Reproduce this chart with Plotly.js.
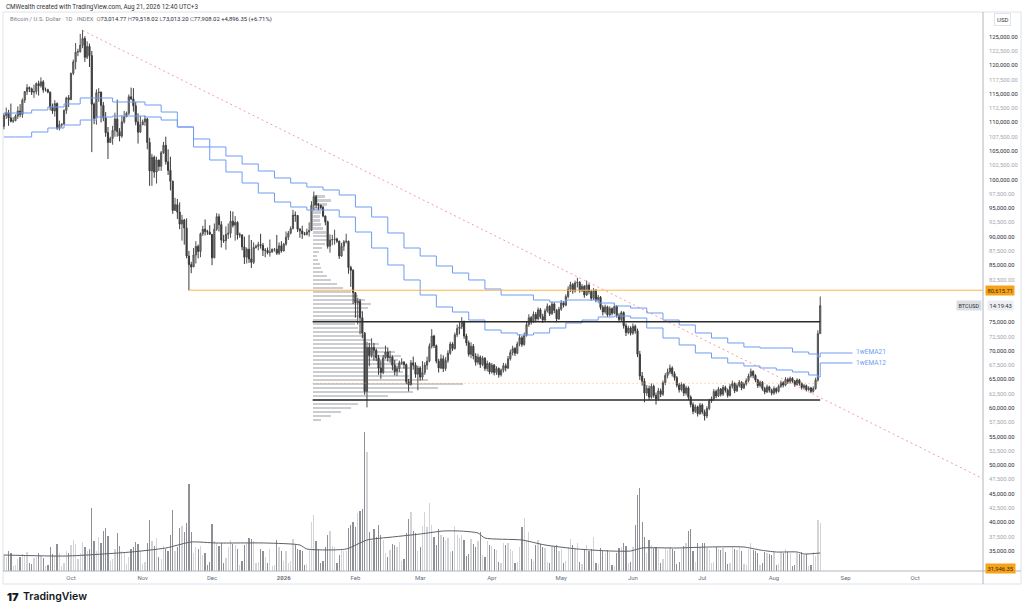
<!DOCTYPE html>
<html><head><meta charset="utf-8">
<script src="https://cdn.plot.ly/plotly-3.0.1.min.js"></script>
<style>html,body{margin:0;padding:0;background:#fff}#chart{width:1024px;height:612px}</style>
</head><body><div id="chart"></div>
<script>
// ---------- DATA (daily, BTCUSD INDEX, prices in thousands of USD) ----------
const firstDay = '2025-09-02';
const firstOpenK = 109.3;
const closeK = [
// Sep 2-30
111.2,111.7,110.8,110.2,110.3,111.1,112.0,111.4,113.9,115.4,116.1,115.9,115.3,115.4,116.8,116.4,117.1,115.7,115.7,115.3,112.7,112.0,113.3,109.0,109.6,109.7,112.1,114.3,114.0,
// Oct
118.6,120.6,122.3,122.4,123.5,124.7,121.4,123.3,121.7,113.2,110.7,115.2,115.3,113.0,110.8,108.2,106.5,107.2,108.6,110.6,108.4,107.6,110.1,111.0,111.6,114.5,114.1,112.9,110.1,108.3,109.6,
// Nov
110.1,110.6,106.5,101.5,103.9,101.3,103.4,102.3,104.7,106.0,103.1,101.6,99.7,94.6,95.6,94.3,92.2,92.9,91.5,86.6,85.1,84.7,86.8,88.3,87.4,90.5,91.3,90.9,90.8,90.4,
// Dec
86.3,91.3,93.5,92.1,89.4,89.3,90.4,90.6,92.7,92.0,92.5,90.3,90.3,88.2,86.4,87.8,86.1,85.5,88.1,88.3,88.6,88.5,87.6,87.6,87.2,87.3,87.8,87.8,87.1,88.4,87.5,
// Jan 2026
88.7,89.9,90.6,91.4,93.8,93.7,91.3,91.0,90.5,90.4,90.8,91.1,95.5,97.0,95.6,95.5,95.1,93.6,92.6,88.3,89.4,89.5,89.6,89.2,86.6,88.3,89.1,89.2,84.6,84.1,80.2,
// Feb
78.4,78.7,75.8,73.1,62.9,70.6,69.2,70.6,70.1,68.8,67.0,66.2,68.8,69.8,68.8,68.9,67.5,66.4,66.9,67.9,68.0,67.6,64.6,64.1,67.9,67.5,65.9,67.0,
// Mar
65.4,66.2,67.5,68.2,70.8,72.6,70.9,68.2,67.0,68.6,66.9,68.3,69.6,71.2,70.4,72.8,73.9,74.2,75.0,72.6,71.4,69.4,70.8,69.1,68.0,68.9,67.6,68.7,66.9,67.8,66.3,
// Apr
67.5,66.2,66.9,65.8,66.6,67.4,67.0,68.6,69.7,70.4,69.6,71.2,72.3,71.1,72.7,74.6,75.8,75.1,76.4,75.6,77.2,76.0,75.4,77.0,77.8,76.5,78.2,77.1,75.6,77.3,
// May
78.4,78.0,79.5,80.8,81.6,80.5,81.9,82.0,80.6,81.3,79.8,81.5,80.4,79.2,80.6,78.9,79.4,77.6,76.8,77.7,76.3,77.4,76.6,77.8,76.2,75.5,76.7,74.4,73.2,74.0,73.1,
// Jun
74.3,73.5,69.4,65.6,64.7,62.6,63.4,61.9,63.8,62.2,61.6,63.0,62.4,64.4,65.7,66.3,67.0,66.0,65.3,64.0,63.2,64.1,62.6,63.5,61.9,60.6,59.4,60.2,59.0,60.5,
// Jul
59.3,58.6,59.9,61.2,61.6,62.9,62.1,63.3,62.4,63.6,63.1,62.2,63.8,64.3,63.0,63.9,64.5,63.5,64.2,64.8,65.6,66.4,65.7,64.9,63.9,64.5,63.4,62.8,63.7,63.1,62.6,
// Aug 1-21
63.4,62.9,63.8,64.4,64.0,65.0,64.6,65.2,64.7,64.1,64.9,64.3,63.6,63.9,63.2,63.5,62.9,63.4,64.9,73.01167,77.90802
];
const highK = [
111.6,112.6,112.2,113.3,110.9,111.4,112.8,113.2,114.2,115.5,116.7,116.3,116.1,116.6,117.0,117.3,117.9,117.4,116.1,115.9,115.4,113.3,113.9,113.5,110.3,109.8,112.3,114.5,114.8,
118.7,121.0,123.9,122.9,125.5,126.2,125.1,124.2,123.8,122.5,113.5,115.8,116.0,115.4,113.6,111.8,109.2,107.5,109.4,111.7,114.0,109.0,111.2,112.0,111.9,114.9,116.1,116.0,113.6,111.6,111.1,
110.5,111.2,110.8,107.3,104.5,104.2,104.0,103.5,105.0,106.6,107.5,105.3,104.0,99.8,96.8,96.6,96.0,93.8,93.1,93.2,87.5,85.6,88.0,89.2,88.6,90.7,91.9,93.0,91.2,92.0,
90.4,92.3,94.1,94.0,92.7,90.3,91.8,92.3,94.5,94.4,93.6,92.7,90.7,90.4,90.0,88.1,90.3,89.4,89.0,88.6,89.1,90.5,88.9,88.0,88.1,89.5,87.9,88.0,90.3,89.0,89.2,
88.9,90.9,91.0,91.8,94.7,94.4,93.8,91.5,91.9,90.8,91.4,92.5,96.2,97.9,97.3,95.9,95.6,95.4,93.7,92.8,90.4,90.3,91.2,89.8,89.3,88.9,89.4,90.5,89.3,84.9,84.3,
80.3,79.3,79.1,76.9,73.3,71.6,71.4,72.2,71.4,70.4,69.3,68.3,69.3,70.9,70.6,70.0,69.2,68.4,67.4,68.3,68.7,68.2,67.8,65.1,68.4,69.0,68.0,67.4,
67.3,68.2,68.0,69.0,71.3,73.8,72.8,71.1,68.6,69.4,69.2,68.9,70.1,71.6,71.5,73.2,74.6,75.0,75.9,75.3,73.0,71.8,71.5,71.2,69.6,69.5,69.2,69.1,68.9,68.3,68.0,
67.9,67.7,67.3,67.1,66.9,67.9,67.8,69.1,70.2,70.9,70.7,71.6,72.9,72.6,73.2,75.1,76.4,76.1,76.9,76.8,77.6,77.5,76.5,77.4,78.3,78.0,78.6,78.5,77.3,77.7,
78.9,78.7,79.9,81.3,82.1,81.9,82.3,82.8,82.2,81.7,81.5,82.3,81.8,80.7,81.0,80.8,79.8,79.6,78.0,78.1,77.9,77.8,77.6,78.3,78.0,76.6,77.0,76.9,74.8,74.4,74.3,
74.8,74.6,73.9,70.0,66.3,65.2,64.0,63.9,64.3,64.1,62.7,63.5,63.4,64.8,66.1,66.9,67.6,67.3,66.4,65.6,64.4,64.5,64.3,63.9,63.8,62.2,61.0,60.6,60.4,60.9,
60.8,59.7,60.3,61.6,62.0,63.3,63.2,63.7,63.5,64.0,63.9,63.4,64.2,64.8,64.5,64.3,64.9,64.7,64.5,65.2,66.0,66.9,66.6,65.9,65.1,64.8,64.7,63.7,64.1,63.9,63.4,
63.8,63.6,64.1,64.8,64.7,65.4,65.3,65.5,65.4,64.9,65.2,65.1,64.5,64.2,64.1,63.8,63.7,63.8,65.3,73.6,79.51802
];
const lowK = [
108.8,110.6,109.4,110.0,109.9,110.2,110.6,110.9,110.8,113.4,114.8,115.3,114.8,114.3,114.9,114.7,116.1,115.2,115.4,115.1,112.1,111.5,111.0,108.7,108.6,109.1,109.6,111.5,112.7,
113.9,118.3,119.3,121.6,122.2,123.0,120.6,121.1,119.7,104.8,109.7,109.6,113.6,110.0,110.2,107.5,103.6,106.4,106.1,107.5,107.5,106.7,107.3,109.8,110.9,111.3,113.9,111.9,109.5,106.3,108.2,
109.5,109.4,105.3,98.9,98.9,100.3,99.3,101.5,101.5,104.5,102.6,100.8,98.1,94.0,94.5,93.1,91.3,89.3,88.6,86.2,80.6,83.6,84.7,85.3,86.2,86.4,90.1,90.2,90.3,90.3,
85.0,86.2,91.0,90.9,88.1,88.9,87.7,89.6,89.8,91.6,89.3,89.5,89.8,87.6,85.2,85.3,85.4,84.5,85.2,87.9,87.6,87.9,86.6,86.4,86.9,86.5,87.2,87.4,86.8,86.8,87.2,
87.4,88.4,89.4,90.4,91.3,92.6,90.8,89.8,89.6,90.2,90.2,90.0,91.0,94.6,95.0,94.6,94.9,93.4,92.0,87.9,87.2,88.5,88.6,88.9,86.1,86.5,87.5,88.8,83.5,81.2,78.2,
75.8,74.6,72.9,72.2,62.3,60.1,67.3,68.8,68.3,68.2,65.8,65.1,65.9,68.6,68.1,67.9,66.6,65.7,65.6,66.3,67.6,66.9,64.2,62.9,63.9,66.7,65.3,63.1,
64.8,64.9,65.8,66.7,68.0,70.4,70.5,67.8,66.2,66.8,66.3,66.5,67.9,69.3,70.0,70.2,72.4,72.9,73.8,72.1,70.9,69.0,68.7,68.5,67.4,67.6,67.0,67.3,66.5,66.4,65.9,
66.0,65.7,65.8,65.3,65.5,66.2,66.4,66.8,68.3,69.2,69.1,69.4,70.8,70.7,70.9,72.5,74.2,74.6,74.9,75.0,75.3,75.6,74.9,75.2,76.7,76.1,76.3,76.6,75.0,75.4,
77.0,77.6,77.8,79.2,80.3,80.0,80.2,81.1,80.2,80.3,79.3,79.6,79.9,78.8,78.9,78.5,78.6,77.2,76.2,76.5,75.9,76.0,76.2,76.4,75.8,75.0,75.2,73.9,72.6,72.9,72.7,
72.8,73.0,68.9,64.9,63.9,61.0,62.1,61.4,61.6,61.8,60.6,61.3,61.9,62.1,64.0,65.2,65.9,65.5,64.8,63.6,62.7,62.9,62.1,62.2,61.4,60.1,58.9,59.1,58.5,58.8,
58.9,57.8,58.2,59.6,60.9,61.3,61.7,61.9,62.0,62.1,62.7,61.8,62.0,63.4,62.6,62.8,63.6,63.1,63.3,63.9,64.5,65.3,65.2,64.5,63.5,63.6,63.0,62.4,62.6,62.7,62.2,
62.3,62.5,62.7,63.5,63.6,63.8,64.2,64.3,64.4,63.7,63.9,63.9,63.2,63.3,62.9,63.0,62.6,62.7,63.2,64.6,73.0132
];
// daily volume (relative units)
const volume = [
16,14,20,18,5,6,12,14,17,15,19,8,7,13,14,18,15,13,5,6,24,17,15,27,18,5,8,20,18,
26,31,27,12,18,29,24,20,22,63,30,20,34,28,40,43,35,10,12,22,38,25,20,18,7,14,22,24,29,27,20,
7,9,28,51,30,25,33,14,12,25,22,20,36,61,20,24,43,45,39,48,87,39,18,24,22,25,16,18,6,9,
47,30,28,25,28,8,13,24,31,27,26,22,6,10,26,28,33,32,30,8,9,22,20,14,8,22,5,6,31,24,20,
10,20,8,10,32,26,22,21,20,6,7,22,49,56,30,22,8,10,24,36,40,25,24,8,16,22,20,20,43,46,49,
44,58,60,62,139,119,39,30,42,34,46,36,31,18,14,21,27,26,24,29,10,12,38,52,59,40,38,20,
24,45,59,44,68,46,34,26,42,36,34,31,33,19,20,45,36,33,36,31,15,17,32,27,24,30,39,16,14,30,26,
25,22,21,9,8,28,26,28,22,20,8,9,24,44,53,30,39,12,10,26,31,27,24,23,9,8,25,24,26,20,
22,8,10,24,32,26,23,28,9,7,22,26,20,22,34,8,7,23,20,18,21,19,6,5,18,23,24,28,25,8,9,
24,46,76,83,49,34,18,31,26,23,24,22,8,12,23,21,24,22,20,7,9,22,25,28,40,42,20,9,28,24,
28,28,23,21,8,9,24,22,21,23,19,7,8,25,22,21,24,20,7,6,22,28,21,20,18,6,8,19,18,17,16,
20,6,7,19,18,22,19,18,5,6,18,17,19,16,17,5,6,19,15,51,48
];
// volume moving average (read points)
const volMaDates = ['2025-09-02','2025-09-29','2025-10-27','2025-11-11','2025-11-22','2025-12-03','2025-12-24','2026-01-08','2026-01-11','2026-01-28','2026-02-06','2026-02-17','2026-03-01','2026-03-11','2026-03-18','2026-03-26','2026-03-29','2026-04-14','2026-04-24','2026-05-08','2026-05-22','2026-05-31','2026-06-05','2026-06-20','2026-07-04','2026-07-19','2026-07-26','2026-08-02','2026-08-11','2026-08-14','2026-08-21'];
const volMa = [16,15,19,23,29,28,28,26,22,22,31,34,37,40,40,38,33,31,26,22,20,20,23,23,24,24,21,19,19,17,18];
// weekly EMAs (thousands USD)
const emaDates = ['2025-09-02','2025-09-07','2025-09-14','2025-09-21','2025-09-28','2025-10-05','2025-10-12','2025-10-19','2025-10-26','2025-11-02','2025-11-09','2025-11-16','2025-11-23','2025-11-30','2025-12-07','2025-12-14','2025-12-21','2025-12-28','2026-01-04','2026-01-11','2026-01-18','2026-01-25','2026-02-01','2026-02-08','2026-02-15','2026-02-22','2026-03-01','2026-03-08','2026-03-15','2026-03-22','2026-03-29','2026-04-05','2026-04-12','2026-04-19','2026-04-26','2026-05-03','2026-05-10','2026-05-17','2026-05-24','2026-05-31','2026-06-07','2026-06-14','2026-06-21','2026-06-28','2026-07-05','2026-07-12','2026-07-19','2026-07-26','2026-08-02','2026-08-09','2026-08-16','2026-08-20','2026-08-21'];
const ema12K = [111.65,111.65,112.17,112.70,113.23,114.28,114.28,113.58,113.58,113.05,111.82,109.20,105.70,103.42,101.32,99.39,97.64,96.06,95.19,94.66,94.66,93.44,90.81,88.01,85.03,82.41,79.78,77.68,76.80,75.40,73.65,73.13,72.78,73.13,74.00,74.88,75.40,75.93,76.10,75.75,74.00,72.25,71.03,69.63,68.75,67.87,67.35,67.00,66.65,66.30,65.77,65.42,67.87];
const ema21K = [107.45,107.45,108.32,109.02,109.55,110.42,110.95,111.12,111.12,110.95,110.42,109.20,107.10,105.70,104.12,102.72,101.49,100.27,99.39,98.69,98.17,97.29,95.19,93.44,90.64,88.01,86.61,84.86,83.63,82.41,80.83,79.78,79.78,78.90,78.55,78.90,78.90,78.38,77.85,77.50,76.63,75.40,74.53,73.13,72.25,71.38,70.68,70.50,70.50,69.80,69.45,68.92,69.62];
// fixed-range volume profile (price rows in thousands USD, relative volume)
const vpPriceK = [97.1,96.4,95.7,95.0,94.3,93.6,92.9,92.2,91.5,90.8,90.1,89.4,88.7,88.0,87.3,86.6,85.9,85.2,84.5,83.8,83.1,82.4,81.7,81.0,80.3,79.6,78.9,78.2,77.5,76.8,76.1,75.4,74.7,74.0,73.3,72.6,71.9,71.2,70.5,69.8,69.1,68.4,67.7,67.0,66.3,65.6,64.9,64.2,63.5,62.8,62.1,61.4,60.7,60.0,59.3,58.6,57.9];
const vpVol = [12,18,14,10,8,7,7,8,10,13,15,14,12,9,6,4,5,7,8,10,14,18,24,30,38,45,52,58,55,50,46,44,42,45,48,52,58,66,74,82,88,85,92,98,90,96,115,150,125,100,75,55,45,38,28,18,8];
const vpStart = '2026-01-13T12:00:00';
const pocPrice = 64320;
// drawings
const trendDates = ['2025-10-06','2026-10-30'];
const trendPrices = [126100, 47700];
const rangeLevels = [75100, 61400];
const rangeDates = ['2026-01-13T12:00:00','2026-08-21'];
const supportLevel = 80615.71;
const supportStart = '2025-11-21';
const lowLabel = 31946.35;
const lastClose = 77908.02;
// axes labels (ticks hidden behind the price labels are left blank)
const priceTicks = [125000,122500,120000,117500,115000,112500,110000,107500,105000,102500,100000,97500,95000,92500,90000,87500,85000,82500,80000,77500,75000,72500,70000,67500,65000,62500,60000,57500,55000,52500,50000,47500,45000,42500,40000,37500,35000,32500];
const hiddenTicks = [80000, 77500, 32500];
const monthTicks = ['2025-10-01','2025-11-01','2025-12-01','2026-01-01','2026-02-01','2026-03-01','2026-04-01','2026-05-01','2026-06-01','2026-07-01','2026-08-01','2026-09-01','2026-10-01'];
const monthLabels = ['Oct','Nov','Dec','2026','Feb','Mar','Apr','May','Jun','Jul','Aug','Sep','Oct'];

// ---------- BUILD ----------
const K = 1000;
const n = closeK.length;
const d0 = new Date(firstDay + 'T00:00:00Z');
const dates = [], open = [], close = [], high = [], low = [];
for (let i = 0; i < n; i++) {
  const d = new Date(d0.getTime() + i * 86400000);
  dates.push(d.toISOString().slice(0, 10));
  open.push((i === 0 ? firstOpenK : closeK[i - 1]) * K);
  close.push(closeK[i] * K);
  high.push(highK[i] * K);
  low.push(lowK[i] * K);
}
const volColors = close.map((c, i) => c >= open[i] ? '#d3d4d8' : '#8e9096');
const EMA_BLUE = '#6f9cf2';
const xStart = '2025-09-01T14:24:00', xEnd = '2026-10-30T09:36:00';
const vpScale = 86400000 / 2.3125; // ms per profile unit

const fmt = v => v.toLocaleString('en-US', {minimumFractionDigits: 2, maximumFractionDigits: 2});

const traces = [
  {type: 'bar', x: dates, y: volume, xaxis: 'x', yaxis: 'y', marker: {color: volColors, line: {width: 0}}, width: 86400000 * 0.55, hoverinfo: 'skip'},
  {type: 'scatter', mode: 'lines', x: volMaDates, y: volMa, xaxis: 'x', yaxis: 'y', line: {color: '#5d5f66', width: 1, shape: 'spline', smoothing: 0.6}, hoverinfo: 'skip'},
  {type: 'bar', orientation: 'h', y: vpPriceK.map(v => v * K), x: vpVol.map(v => v * vpScale), base: vpPriceK.map(() => vpStart), width: 500, xaxis: 'x', yaxis: 'y2', marker: {color: 'rgba(168,171,179,0.6)', line: {width: 0}}, hoverinfo: 'skip'},
  {type: 'scatter', mode: 'lines', x: emaDates, y: ema21K.map(v => v * K), xaxis: 'x', yaxis: 'y2', line: {color: EMA_BLUE, width: 1, shape: 'hv'}, hoverinfo: 'skip'},
  {type: 'scatter', mode: 'lines', x: emaDates, y: ema12K.map(v => v * K), xaxis: 'x', yaxis: 'y2', line: {color: EMA_BLUE, width: 1, shape: 'hv'}, hoverinfo: 'skip'},
  {type: 'scatter', mode: 'lines', x: trendDates, y: trendPrices, xaxis: 'x', yaxis: 'y2', line: {color: 'rgba(240,90,100,0.6)', width: 1, dash: '2px,3px'}, hoverinfo: 'skip'},
  {type: 'candlestick', x: dates, open: open, high: high, low: low, close: close, xaxis: 'x', yaxis: 'y2',
   increasing: {line: {color: '#505050', width: 1}, fillcolor: '#8a8a8a'},
   decreasing: {line: {color: '#3a3a3a', width: 1}, fillcolor: '#3a3a3a'},
   whiskerwidth: 0, hoverinfo: 'skip'}
];

const lastDate = dates[n - 1];
const labelDate = '2026-09-04';
const shapes = [
  {type: 'rect', xref: 'paper', yref: 'paper', x0: 0, x1: 1.0388, y0: -0.0233, y1: 1, line: {color: '#e0e3eb', width: 1}, layer: 'below'},
  {type: 'line', xref: 'paper', yref: 'paper', x0: 1, x1: 1, y0: -0.0233, y1: 1, line: {color: '#b2b5be', width: 1}},
  {type: 'line', xref: 'paper', yref: 'paper', x0: 0, x1: 1.0388, y0: 0, y1: 0, line: {color: '#b2b5be', width: 1}},
  {type: 'line', xref: 'x', yref: 'y2', x0: supportStart, x1: xEnd, y0: supportLevel, y1: supportLevel, line: {color: '#f9b54c', width: 1}},
  {type: 'line', xref: 'x', yref: 'y2', x0: rangeDates[0], x1: rangeDates[1], y0: rangeLevels[0], y1: rangeLevels[0], line: {color: '#2b2b2b', width: 1.5}},
  {type: 'line', xref: 'x', yref: 'y2', x0: rangeDates[0], x1: rangeDates[1], y0: rangeLevels[1], y1: rangeLevels[1], line: {color: '#2b2b2b', width: 1.5}},
  {type: 'line', xref: 'x', yref: 'y2', x0: vpStart, x1: rangeDates[1], y0: pocPrice, y1: pocPrice, line: {color: 'rgba(245,160,70,0.8)', width: 1, dash: '1px,3px'}},
  {type: 'line', xref: 'x', yref: 'y2', x0: lastDate, x1: labelDate, y0: ema21K[ema21K.length - 1] * K, y1: ema21K[ema21K.length - 1] * K, line: {color: EMA_BLUE, width: 1}},
  {type: 'line', xref: 'x', yref: 'y2', x0: lastDate, x1: labelDate, y0: ema12K[ema12K.length - 1] * K, y1: ema12K[ema12K.length - 1] * K, line: {color: EMA_BLUE, width: 1}}
];

const F = 'Roboto, "Open Sans", sans-serif';
const lbl = c => `<span style="color:#7b7e88">${c}</span>`;
const val = c => `<span style="color:#2a2e39">${c}</span>`;
const header2 = `${lbl('Bitcoin / U.S. Dollar · 1D · INDEX')}  ${lbl('O')}${val('73,014.77')} ${lbl('H')}${val('79,518.02')} ${lbl('L')}${val('73,013.20')} ${lbl('C')}${val('77,908.02')} ${val('+4,896.35 (+6.71%)')}`;

const annotations = [
  {xref: 'paper', yref: 'paper', x: 0.001, y: 1.0089, xanchor: 'left', yanchor: 'middle', showarrow: false, text: 'CMWealth created with TradingView.com, Aug 21, 2026 12:40 UTC+3', font: {family: F, size: 6.3, color: '#333'}},
  {xref: 'paper', yref: 'paper', x: 0.0051, y: 0.9857, xanchor: 'left', yanchor: 'middle', showarrow: false, text: header2, font: {family: F, size: 5.9, color: '#555'}},
  {xref: 'paper', yref: 'paper', x: 1.0204, y: 0.9857, xanchor: 'center', yanchor: 'middle', showarrow: false, text: 'USD', font: {family: F, size: 6, color: '#333'}, bordercolor: '#e0e3eb', borderwidth: 1, borderpad: 2, bgcolor: '#fff'},
  {xref: 'paper', yref: 'y2', x: 1.002, y: supportLevel, xanchor: 'left', yanchor: 'middle', showarrow: false, text: fmt(supportLevel), font: {family: F, size: 5.8, color: '#3a2a00'}, bgcolor: '#f7a21b', borderpad: 1.5},
  {xref: 'paper', yref: 'y2', x: 1.002, y: lowLabel, xanchor: 'left', yanchor: 'middle', showarrow: false, text: fmt(lowLabel), font: {family: F, size: 5.8, color: '#3a2a00'}, bgcolor: '#f7a21b', borderpad: 1.5},
  {xref: 'paper', yref: 'y2', x: 0.999, y: lastClose, xanchor: 'right', yanchor: 'middle', showarrow: false, text: 'BTCUSD', font: {family: F, size: 5.5, color: '#2a2e39'}, bgcolor: '#dcdee3', borderpad: 1.5},
  {xref: 'paper', yref: 'y2', x: 1.004, y: lastClose, xanchor: 'left', yanchor: 'middle', showarrow: false, text: '14:19:43', font: {family: F, size: 5.8, color: '#2a2e39'}, bgcolor: '#eceef2', borderpad: 1.5},
  {xref: 'x', yref: 'y2', x: labelDate, y: ema21K[ema21K.length - 1] * K, xanchor: 'left', yanchor: 'middle', xshift: 1, yshift: 1, showarrow: false, text: '1wEMA21', font: {family: F, size: 6.6, color: EMA_BLUE}},
  {xref: 'x', yref: 'y2', x: labelDate, y: ema12K[ema12K.length - 1] * K, xanchor: 'left', yanchor: 'middle', xshift: 1, showarrow: false, text: '1wEMA12', font: {family: F, size: 6.6, color: EMA_BLUE}},
  {xref: 'paper', yref: 'paper', x: 0.0020, y: -0.0465, xanchor: 'left', yanchor: 'middle', showarrow: false, text: '17', font: {family: 'Inter, Roboto, sans-serif', size: 11, color: '#131722', weight: 900}},
  {xref: 'paper', yref: 'paper', x: 0.0184, y: -0.0465, xanchor: 'left', yanchor: 'middle', showarrow: false, text: 'TradingView', font: {family: 'Inter, Roboto, sans-serif', size: 10.5, color: '#131722', weight: 600}}
];

const layout = {
  width: 1024, height: 612,
  margin: {l: 3, r: 41, t: 12, b: 41, pad: 0},
  paper_bgcolor: '#ffffff', plot_bgcolor: '#ffffff',
  showlegend: false, hovermode: false, bargap: 0,
  xaxis: {type: 'date', range: [xStart, xEnd], tickvals: monthTicks,
          ticktext: monthLabels.map(t => t === '2026' ? '<b>2026</b>' : t),
          tickfont: {family: F, size: 6, color: '#6a6d78'}, ticks: '', ticklabelstandoff: 2,
          showgrid: false, zeroline: false, showline: false, rangeslider: {visible: false}, fixedrange: true},
  yaxis: {domain: [0, 1], range: [0, 559], visible: false, fixedrange: true},
  yaxis2: {overlaying: 'y', side: 'right', range: [31453, 129334], tickvals: priceTicks,
           ticktext: priceTicks.map(v => hiddenTicks.includes(v) ? '' : (v % 5000 === 0 ? `<span style="color:#2a2e39">${fmt(v)}</span>` : `<span style="color:#a3a6af">${fmt(v)}</span>`)),
           tickfont: {family: F, size: 5.8, color: '#2a2e39'}, ticks: '', ticklabelstandoff: 5,
           showgrid: false, zeroline: false, showline: false, fixedrange: true},
  shapes: shapes,
  annotations: annotations
};

Plotly.newPlot('chart', traces, layout, {staticPlot: true, displayModeBar: false});
</script>
</body></html>
